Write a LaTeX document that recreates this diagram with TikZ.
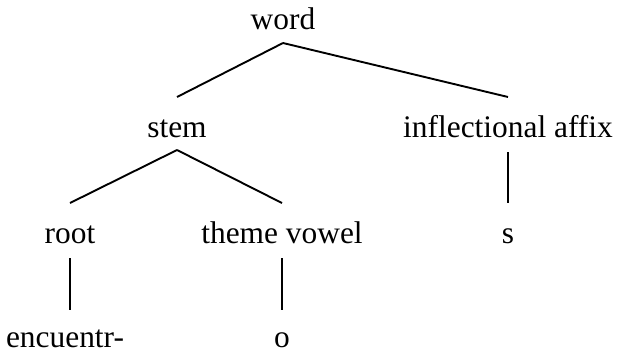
\documentclass[tikz,border=0pt]{standalone}
\usepackage{fontspec}
\setmainfont{Liberation Serif}
\usetikzlibrary{calc}
\begin{document}
\begin{tikzpicture}[x=1pt,y=-1pt,
  lbl/.style={anchor=base,inner sep=0pt,font=\fontsize{31.4}{36}\selectfont},
  branch/.style={line width=1.9pt}]
\useasboundingbox (0,0) rectangle (618,354);
% labels of the morphological tree
\node[lbl] (word)  at (283,29)  {word};
\node[lbl] (stem)  at (177,137) {stem};
\node[lbl] (affix) at (508,137) {inflectional affix};
\node[lbl] (root)  at (70,243)  {root};
\node[lbl] (theme) at (282,243) {theme vowel};
\node[lbl] (s)     at (508,243) {s};
\node[lbl] (enc)   at (65,347)  {encuentr-};
\node[lbl] (o)     at (282,347) {o};
% branches
\draw[branch] ($(word.base)+(0,-14pt)$) -- ($(stem.base)+(0,40pt)$);
\draw[branch] ($(word.base)+(0,-14pt)$) -- ($(affix.base)+(0,40pt)$);
\draw[branch] ($(stem.base)+(0,-13pt)$) -- ($(root.base)+(0,40pt)$);
\draw[branch] ($(stem.base)+(0,-13pt)$) -- ($(theme.base)+(0,40pt)$);
\draw[branch] ($(affix.base)+(0,-15pt)$) -- ($(s.base)+(0,40pt)$);
\draw[branch] ($(root.base)+(0,-15pt)$) -- ($(root.base |- enc.base)+(0,37pt)$);
\draw[branch] ($(theme.base)+(0,-15pt)$) -- ($(o.base)+(0,37pt)$);
\end{tikzpicture}
\end{document}
